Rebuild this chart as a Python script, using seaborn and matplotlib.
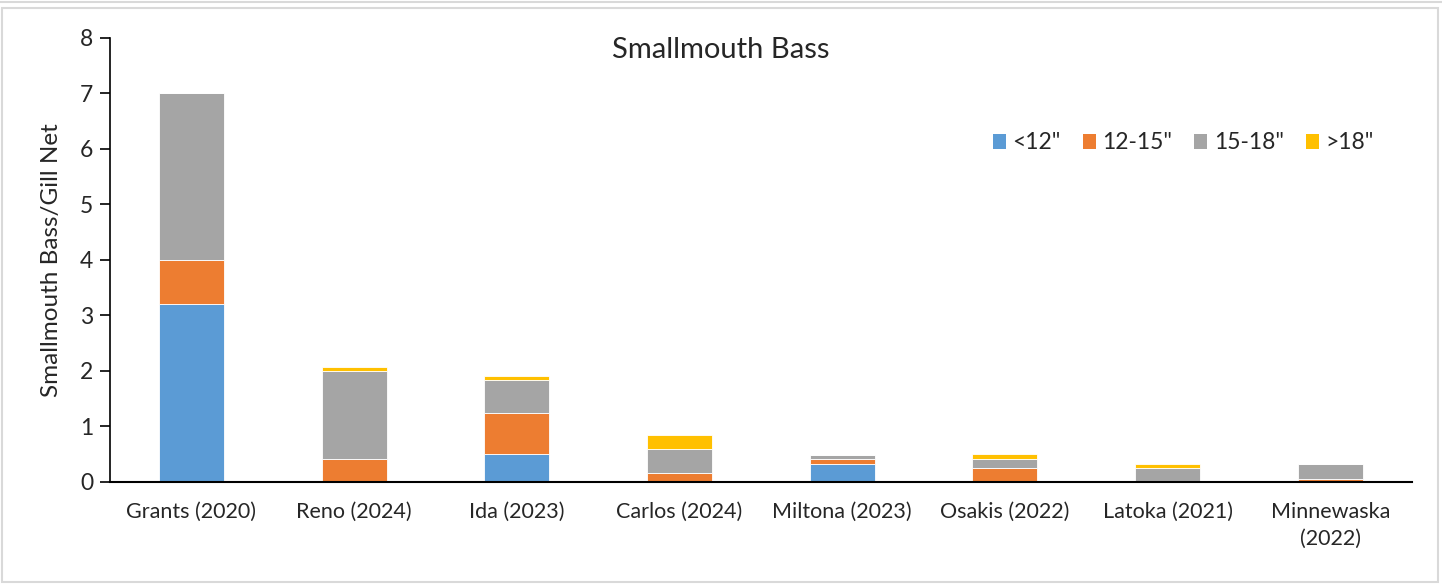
import matplotlib
matplotlib.use("Agg")
import matplotlib.pyplot as plt
from matplotlib.patches import Patch, Rectangle
from matplotlib.lines import Line2D
import numpy as np
import pandas as pd
import seaborn as sns

# data (fish per gill net, by length class)
lakes = ["Grants (2020)", "Reno (2024)", "Ida (2023)", "Carlos (2024)",
         "Miltona (2023)", "Osakis (2022)", "Latoka (2021)", "Minnewaska\n(2022)"]
under_12 = [3.2, 0.0, 0.5, 0.0, 0.33, 0.0, 0.0, 0.0]
from_12_15 = [0.8, 0.42, 0.75, 0.17, 0.08, 0.25, 0.0, 0.06]
from_15_18 = [3.0, 1.58, 0.58, 0.42, 0.08, 0.17, 0.25, 0.27]
over_18 = [0.0, 0.08, 0.08, 0.25, 0.0, 0.08, 0.08, 0.0]

series_names = ['<12"', '12-15"', '15-18"', '>18"']
colors = ["#5B9BD5", "#ED7D31", "#A5A5A5", "#FFC000"]

sns.set_style("white")
plt.rcParams['font.family'] = ['Lato', 'DejaVu Sans']

fig = plt.figure(figsize=(14.42, 5.84), dpi=100)
ax = fig.add_axes([0.0763, 0.1747, 0.9027, 0.7603])

df = pd.DataFrame({"lake": lakes, "a": under_12, "b": from_12_15,
                   "c": from_15_18, "d": over_18})
bottom = np.zeros(len(lakes))
for col, name, c in zip(["a", "b", "c", "d"], series_names, colors):
    sns.barplot(data=df, x="lake", y=col, color=c, width=0.4, bottom=bottom,
                edgecolor="white", linewidth=0.6, saturation=1, ax=ax)
    bottom = bottom + df[col].values

ax.set_ylim(0, 8)
ax.set_yticks(range(0, 9))
ax.set_xlim(-0.5, len(lakes) - 0.5)
ax.set_xlabel("")
ax.set_ylabel("Smallmouth Bass/Gill Net", fontsize=17.5)
ax.yaxis.set_label_coords(-0.037, 0.5)
ax.tick_params(axis="y", which="both", left=True, length=7, width=1.2,
               direction="out", labelsize=16.5, color="black", pad=5)
ax.tick_params(axis="x", bottom=False, labelsize=15.5, pad=11)
for lbl in ax.get_xticklabels():
    lbl.set_linespacing(1.45)
for s in ["top", "right"]:
    ax.spines[s].set_visible(False)
ax.spines["left"].set_color("black")
ax.spines["left"].set_linewidth(1.2)
ax.spines["bottom"].set_color("black")
ax.spines["bottom"].set_linewidth(1.5)

fig.text(721 / 1442, 1 - 50 / 584, "Smallmouth Bass", ha="center",
         va="center", fontsize=21)

handles = [Patch(facecolor=c, edgecolor="none") for c in colors]
ax.legend(handles, series_names, loc="center", bbox_to_anchor=(0.8245, 0.7635),
          ncol=4, frameon=False, fontsize=16.5, handlelength=0.58,
          handleheight=0.58, handletextpad=0.28, columnspacing=0.95)

# chart area border like the spreadsheet export
fig.patches.append(Rectangle((2 / 1442, 2 / 584), 1436 / 1442, 574 / 584,
                             transform=fig.transFigure, fill=False,
                             edgecolor="#D9D9D9", linewidth=1.5))
fig.lines.append(Line2D([0, 1], [1 - 2 / 584, 1 - 2 / 584],
                        transform=fig.transFigure, color="#D9D9D9", lw=1.5))

fig.savefig("out.png", dpi=100)
